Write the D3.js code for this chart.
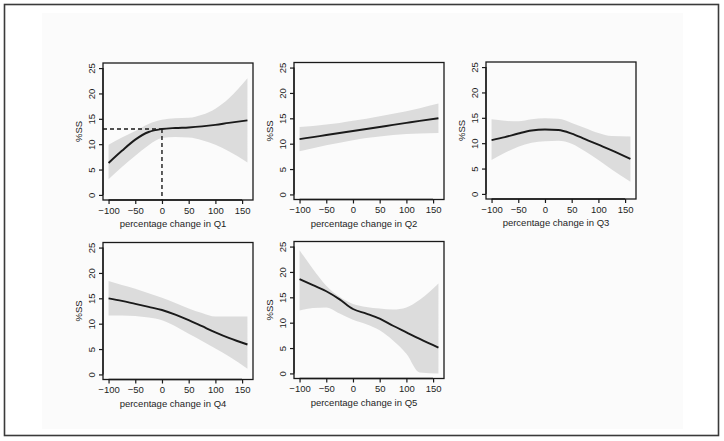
<!DOCTYPE html>
<html>
<head>
<meta charset="utf-8">
<script src="https://cdn.jsdelivr.net/npm/d3@7"></script>
<style>
  html, body { margin: 0; padding: 0; background: #fff; }
  svg { display: block; }
  text { font-family: "Liberation Sans", Arial, Helvetica, sans-serif; fill: #1e1e1e; }
</style>
</head>
<body>
<svg id="chart" width="724" height="441"></svg>
<script>
// ---- data ----
const xTicks = [-100, -50, 0, 50, 100, 150];
const yTicks = [0, 5, 10, 15, 20, 25];
const yLabel = "%SS";
const xTitles = ["percentage change in Q1", "percentage change in Q2", "percentage change in Q3",
                 "percentage change in Q4", "percentage change in Q5"];
const xGrid = [-100, -75, -50, -25, 0, 25, 50, 75, 100, 125, 160];

const q1Fit = [6.3, 8.7, 10.9, 12.4, 13.0, 13.2, 13.3, 13.5, 13.8, 14.2, 14.7];
const q1Lo  = [3.1, 5.5, 7.7, 9.8, 11.2, 11.4, 11.3, 10.8, 9.9, 8.6, 6.4];
const q1Hi  = [9.9, 11.3, 12.6, 14.0, 14.8, 15.1, 15.2, 15.8, 17.0, 19.0, 23.0];

const q2Fit = [10.9, 11.3, 11.7, 12.1, 12.5, 12.9, 13.3, 13.7, 14.1, 14.5, 15.0];
const q2Lo  = [8.5, 9.1, 9.7, 10.2, 10.7, 11.1, 11.4, 11.7, 11.9, 12.0, 12.1];
const q2Hi  = [13.3, 13.5, 13.8, 14.1, 14.5, 14.9, 15.4, 15.9, 16.4, 17.0, 17.9];

const q3Fit = [10.6, 11.2, 11.9, 12.5, 12.7, 12.6, 11.9, 10.8, 9.7, 8.6, 6.9];
const q3Lo  = [6.7, 8.1, 9.3, 10.1, 10.4, 10.5, 9.9, 8.4, 6.7, 4.8, 2.4];
const q3Hi  = [14.7, 14.4, 14.3, 14.7, 14.9, 14.8, 14.0, 13.0, 12.0, 11.4, 11.3];

const q4Fit = [15.0, 14.5, 13.9, 13.3, 12.7, 11.8, 10.7, 9.5, 8.3, 7.2, 5.9];
const q4Lo  = [11.6, 11.6, 11.5, 11.2, 10.7, 9.5, 8.0, 6.6, 5.1, 3.6, 1.1];
const q4Hi  = [18.4, 17.6, 16.9, 16.0, 15.1, 14.1, 13.0, 12.1, 11.4, 11.4, 11.4];

const q5Fit = [18.6, 17.4, 16.2, 14.6, 12.7, 11.8, 10.8, 9.4, 8.1, 6.8, 5.1];
const q5Lo  = [12.4, 12.9, 13.0, 11.8, 10.6, 9.7, 8.5, 6.5, 3.9, 0.2, 0.0];
const q5Hi  = [24.3, 20.6, 17.3, 15.1, 13.7, 13.1, 12.8, 12.6, 13.0, 14.5, 17.7];

const fits = [q1Fit, q2Fit, q3Fit, q4Fit, q5Fit];
const los  = [q1Lo, q2Lo, q3Lo, q4Lo, q5Lo];
const his  = [q1Hi, q2Hi, q3Hi, q4Hi, q5Hi];
const refPoint = [0, 13]; // dashed reference in Q1 panel

// ---- layout ----
const svg = d3.select("#chart");
svg.append("rect").attr("x", 42).attr("y", 13).attr("width", 641).attr("height", 416).attr("fill", "#fbfbfb");
svg.append("rect").attr("x", 4.5).attr("y", 4.5).attr("width", 714).attr("height", 431)
   .attr("fill", "none").attr("stroke", "#3a3a3a").attr("stroke-width", 1.6);

const lefts = [103, 294, 486, 103, 294];
const tops  = [63, 62.5, 62, 242.5, 241.5];
const W = 150, H = 137;

fits.forEach((fit, i) => {
  const L = lefts[i], T = tops[i];
  const x = d3.scaleLinear().domain([-110.4, 170.4]).range([L, L + W]);
  const y = d3.scaleLinear().domain([-1, 26]).range([T + H, T]);
  const g = svg.append("g");
  const pts = xGrid.map((xv, k) => ({ x: xv, m: fit[k], lo: los[i][k], hi: his[i][k] }));

  g.append("path").datum(pts)
    .attr("d", d3.area().x(d => x(d.x)).y0(d => y(d.lo)).y1(d => y(d.hi)).curve(d3.curveMonotoneX))
    .attr("fill", "#dcdcdc");

  g.append("path").datum(pts)
    .attr("d", d3.line().x(d => x(d.x)).y(d => y(d.m)).curve(d3.curveMonotoneX))
    .attr("fill", "none").attr("stroke", "#1a1a1a").attr("stroke-width", 1.9);

  if (i === 0) {
    g.append("path")
      .attr("d", `M${x(-110.4)},${y(refPoint[1])}H${x(refPoint[0])}`)
      .attr("stroke", "#1a1a1a").attr("stroke-width", 1.4).attr("stroke-dasharray", "4,3");
    g.append("path")
      .attr("d", `M${x(refPoint[0])},${y(refPoint[1])}V${y(-1)}`)
      .attr("stroke", "#1a1a1a").attr("stroke-width", 1.4).attr("stroke-dasharray", "4,3");
  }

  // box
  g.append("rect").attr("x", L).attr("y", T).attr("width", W).attr("height", H)
    .attr("fill", "none").attr("stroke", "#1a1a1a").attr("stroke-width", 1.3);

  // axes
  const xa = g.append("g").attr("transform", `translate(0,${T + H})`)
    .call(d3.axisBottom(x).tickValues(xTicks).tickSize(4).tickPadding(3));
  xa.select(".domain").attr("d", `M${x(-100)},0H${x(150)}`).attr("stroke", "#1a1a1a").attr("stroke-width", 1.3);
  xa.selectAll(".tick line").attr("stroke", "#1a1a1a").attr("stroke-width", 1.2);
  xa.selectAll(".tick text").attr("font-size", 9.5).attr("fill", "#1e1e1e").attr("font-family", null);

  const ya = g.append("g").attr("transform", `translate(${L},0)`)
    .call(d3.axisLeft(y).tickValues(yTicks).tickSize(4).tickFormat(d3.format("d")));
  ya.select(".domain").attr("d", `M0,${y(0)}V${y(25)}`).attr("stroke", "#1a1a1a").attr("stroke-width", 1.3);
  ya.selectAll(".tick line").attr("stroke", "#1a1a1a").attr("stroke-width", 1.2);
  ya.selectAll(".tick text")
    .attr("font-size", 9.5).attr("fill", "#1e1e1e").attr("font-family", null)
    .attr("x", 0).attr("dy", null).attr("text-anchor", "middle").attr("dominant-baseline", "central")
    .attr("transform", "translate(-12,0) rotate(-90)");

  g.append("text").attr("transform", `translate(${L - 25},${T + H / 2}) rotate(-90)`)
    .attr("text-anchor", "middle").attr("dominant-baseline", "central")
    .attr("font-size", 9.5).text(yLabel);

  g.append("text").attr("x", L + W / 2 - 5).attr("y", T + H + 27)
    .attr("text-anchor", "middle").attr("font-size", 9.5).text(xTitles[i]);
});
</script>
</body>
</html>
